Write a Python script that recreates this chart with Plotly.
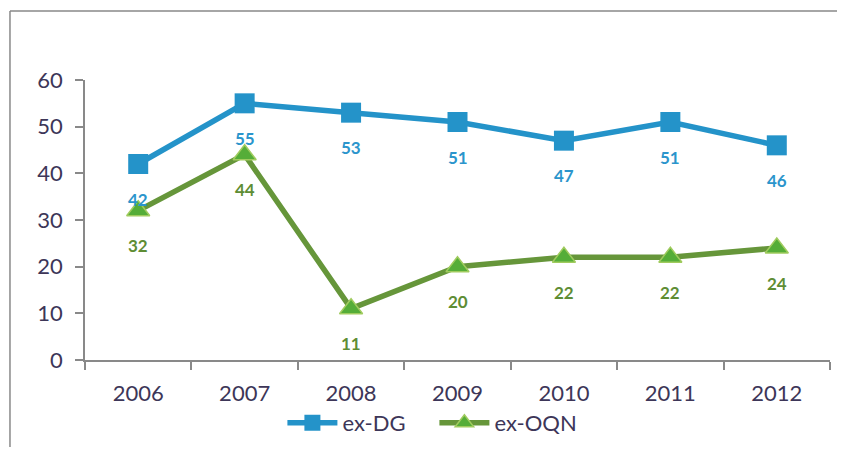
import plotly.graph_objects as go

years = ["2006", "2007", "2008", "2009", "2010", "2011", "2012"]
ex_dg = [42, 55, 53, 51, 47, 51, 46]
ex_oqn = [32, 44, 11, 20, 22, 22, 24]

xs = list(range(len(years)))
bounds = [i - 0.5 for i in range(len(years) + 1)]

DG_COLOR = "#2493C9"
OQN_LINE = "#66963A"
OQN_FILL = "#55AD38"
OQN_EDGE = "#A0CB5E"
DG_LABEL = "#2B95CC"
OQN_LABEL = "#5E8D34"
TEXT = "#3D3658"
AXIS = "#898989"

fig = go.Figure()
fig.add_trace(go.Scatter(
    x=xs, y=ex_dg, name="ex-DG", mode="lines+markers",
    line=dict(color=DG_COLOR, width=5.5),
    marker=dict(symbol="square", size=20, color=DG_COLOR),
))
fig.add_trace(go.Scatter(
    x=xs, y=ex_oqn, name="ex-OQN", mode="lines+markers",
    line=dict(color=OQN_LINE, width=5.5),
    marker=dict(symbol="triangle-up", size=20, color=OQN_FILL,
                line=dict(color=OQN_EDGE, width=1.5)),
))

annotations = []
for x, v in zip(xs, ex_dg):
    annotations.append(dict(x=x, y=v, text=str(v), showarrow=False, yshift=-35,
                            font=dict(family="Lato", size=17, color=DG_LABEL, weight="bold")))
for x, v in zip(xs, ex_oqn):
    annotations.append(dict(x=x, y=v, text=str(v), showarrow=False, yshift=-35,
                            font=dict(family="Lato", size=17, color=OQN_LABEL, weight="bold")))

fig.update_layout(
    width=829, height=439,
    margin=dict(l=77, r=7, t=72, b=87, autoexpand=False),
    paper_bgcolor="white", plot_bgcolor="white",
    font=dict(family="Lato", size=22, color=TEXT),
    showlegend=True,
    legend=dict(orientation="h", x=0.469, xanchor="center", y=-0.15, yanchor="top",
                font=dict(size=22, color=TEXT), itemwidth=50, bgcolor="rgba(0,0,0,0)",
                entrywidth=87, entrywidthmode="pixels"),
    annotations=annotations,
    shapes=[
        dict(type="line", xref="paper", yref="paper", x0=-0.1007, x1=-0.1007,
             y0=-0.5, y1=1.246, line=dict(color=AXIS, width=1.5)),
        dict(type="line", xref="paper", yref="paper", x0=-0.1007, x1=1.2,
             y0=1.246, y1=1.246, line=dict(color=AXIS, width=1.5)),
    ],
)
fig.update_xaxes(
    range=[-0.5, len(years) - 0.5], tickmode="array", tickvals=xs, ticktext=years,
    ticks="", showline=True, linecolor=AXIS, linewidth=1.5,
    minor=dict(tickmode="array", tickvals=bounds, ticks="outside", ticklen=8,
               tickcolor=AXIS, tickwidth=1.5, showgrid=False),
    showgrid=False, zeroline=False, ticklabelstandoff=13, automargin=False,
)
fig.update_yaxes(
    range=[0, 60], dtick=10, showline=True, linecolor=AXIS, linewidth=1.5,
    ticks="outside", ticklen=8, tickcolor=AXIS, tickwidth=1.5,
    showgrid=False, zeroline=False, ticklabelstandoff=8, automargin=False,
)

fig.write_html("out.html")
